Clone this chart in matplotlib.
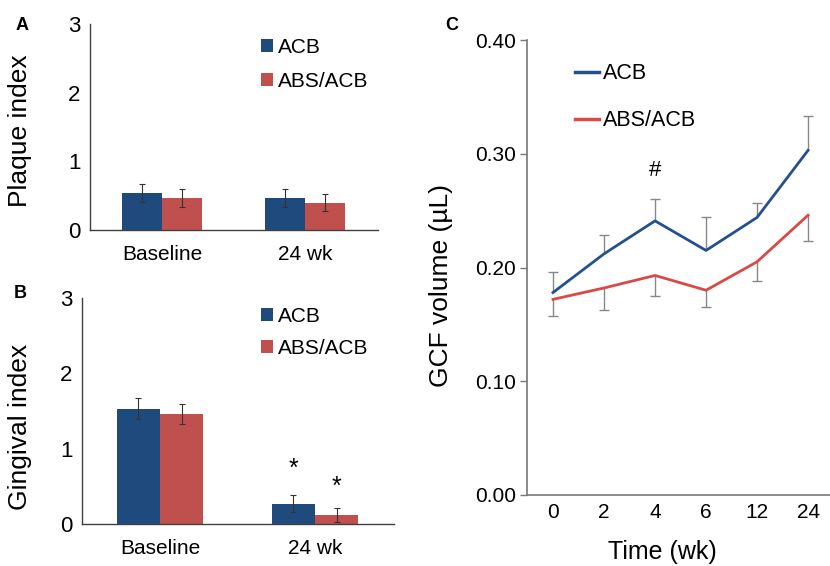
import matplotlib
matplotlib.use("Agg")
import matplotlib.pyplot as plt
import numpy as np

plt.rcParams["font.family"] = ["Liberation Sans", "DejaVu Sans"]

# Panel A / B: bar groups
groups = ["Baseline", "24 wk"]
plaque_acb = [0.54, 0.46]
plaque_acb_err = [0.13, 0.13]
plaque_abs = [0.46, 0.40]
plaque_abs_err = [0.13, 0.13]

gingival_acb = [1.53, 0.27]
gingival_acb_err = [0.14, 0.11]
gingival_abs = [1.46, 0.12]
gingival_abs_err = [0.13, 0.09]

# Panel C: GCF volume over time
weeks = ["0", "2", "4", "6", "12", "24"]
gcf_acb = [0.178, 0.212, 0.241, 0.215, 0.244, 0.303]
gcf_acb_err = [0.018, 0.017, 0.019, 0.029, 0.013, 0.030]
gcf_abs = [0.172, 0.182, 0.193, 0.180, 0.205, 0.246]
gcf_abs_err = [0.015, 0.019, 0.018, 0.015, 0.017, 0.023]

BAR_BLUE = "#1f4a7e"
BAR_RED = "#c0504d"
LINE_BLUE = "#24508f"
LINE_RED = "#d84a45"
ERR_GRAY = "#888888"

W, H = 830, 566
fig = plt.figure(figsize=(W / 100, H / 100), dpi=100)


def px_axes(left, right, top, bottom):
    return fig.add_axes([left / W, 1 - bottom / H, (right - left) / W, (bottom - top) / H])


def bar_panel(ax, acb, acb_err, abs_, abs_err, ylabel, label_x, label_y, leg_anchor, spacing):
    x = np.arange(len(groups))
    w = 0.28
    ekw = dict(ecolor="#333333", elinewidth=0.8, capsize=2.5, capthick=0.8)
    ax.bar(x - w / 2, acb, w, yerr=acb_err, color=BAR_BLUE, label="ACB", error_kw=ekw)
    ax.bar(x + w / 2, abs_, w, yerr=abs_err, color=BAR_RED, label="ABS/ACB", error_kw=ekw)
    ax.set_xlim(-0.503, 1.51)
    ax.set_ylim(0, 3)
    ax.set_yticks([0, 1, 2, 3])
    ax.set_xticks(x)
    ax.set_xticklabels(groups, fontsize=15)
    ax.tick_params(axis="y", length=0, pad=7, labelsize=16)
    ax.tick_params(axis="x", length=0, pad=11)
    for s in ["top", "right"]:
        ax.spines[s].set_visible(False)
    for s in ["left", "bottom"]:
        ax.spines[s].set_color("#404040")
        ax.spines[s].set_linewidth(1.0)
    ax.set_ylabel(ylabel, fontsize=19)
    ax.yaxis.set_label_coords(label_x, label_y)
    ax.legend(loc="center left", bbox_to_anchor=leg_anchor, frameon=False, fontsize=15,
              handlelength=0.55, handleheight=0.55, handletextpad=0.25,
              labelspacing=spacing, borderpad=0, borderaxespad=0)
    return x, w


# A
axA = px_axes(90, 378, 24, 230)
bar_panel(axA, plaque_acb, plaque_acb_err, plaque_abs, plaque_abs_err,
          "Plaque index", -0.20, 0.48, (0.595, 0.805), 0.72)

# B
axB = px_axes(82, 394, 298, 524)
xb, wb = bar_panel(axB, gingival_acb, gingival_acb_err, gingival_abs, gingival_abs_err,
                   "Gingival index", -0.16, 0.43, (0.575, 0.848), 0.6)
# significance stars over 24 wk bars
for xs, val, err, off in [(xb[1] - wb / 2, gingival_acb[1], gingival_acb_err[1], 19),
                          (xb[1] + wb / 2, gingival_abs[1], gingival_abs_err[1], 15)]:
    axB.annotate("*", xy=(xs, val + err), xytext=(0, off), textcoords="offset points",
                 ha="center", va="center", fontsize=18)

# C
axC = px_axes(527, 830, 40, 495)
xc = np.arange(len(weeks))
acb = np.array(gcf_acb)
abs_ = np.array(gcf_abs)
acb_top = acb + np.array(gcf_acb_err)
abs_bot = abs_ - np.array(gcf_abs_err)
# one-sided error bars: ACB upward, ABS/ACB downward
axC.vlines(xc, acb, acb_top, color=ERR_GRAY, lw=1.0, zorder=1)
axC.vlines(xc, abs_bot, abs_, color=ERR_GRAY, lw=1.0, zorder=1)
axC.plot(xc, acb_top, ls="none", marker="_", ms=7, mew=1.0, color=ERR_GRAY, zorder=1)
axC.plot(xc, abs_bot, ls="none", marker="_", ms=7, mew=1.0, color=ERR_GRAY, zorder=1)
axC.plot(xc, acb, color=LINE_BLUE, lw=2.0, label="ACB", zorder=2)
axC.plot(xc, abs_, color=LINE_RED, lw=2.0, label="ABS/ACB", zorder=2)
axC.annotate("#", xy=(xc[2], acb_top[2]), xytext=(0, 21),
             textcoords="offset points", ha="center", va="center", fontsize=16)
axC.set_xlim(-0.51, 5.43)
axC.set_ylim(0, 0.40)
axC.set_yticks([0, 0.1, 0.2, 0.3, 0.4])
axC.set_yticklabels(["0.00", "0.10", "0.20", "0.30", "0.40"])
axC.set_xticks(xc)
axC.set_xticklabels(weeks)
axC.tick_params(axis="y", length=5, width=1.0, color="#777777", pad=3, labelsize=15)
axC.tick_params(axis="x", length=0, pad=6, labelsize=15)
for s in ["top", "right"]:
    axC.spines[s].set_visible(False)
for s in ["left", "bottom"]:
    axC.spines[s].set_color("#777777")
    axC.spines[s].set_linewidth(1.2)
axC.set_ylabel("GCF volume (µL)", fontsize=19)
axC.yaxis.set_label_coords(-0.244, 0.46)
axC.set_xlabel("Time (wk)", fontsize=18)
axC.xaxis.set_label_coords(0.446, -0.098)
axC.legend([plt.Line2D([], [], color=LINE_BLUE, lw=2.5), plt.Line2D([], [], color=LINE_RED, lw=2.5)],
           ["ACB", "ABS/ACB"], loc="center left", bbox_to_anchor=(0.158, 0.874), frameon=False,
           fontsize=15.5, handlelength=1.1, handletextpad=0.2, labelspacing=1.2,
           borderpad=0, borderaxespad=0)

# panel letters
for letter, (px, py) in zip("ABC", [(22, 26), (20, 294), (452, 26)]):
    fig.text(px / W, 1 - py / H, letter, fontsize=13, fontweight="bold", ha="center", va="center")

fig.savefig("out.png", dpi=100)
